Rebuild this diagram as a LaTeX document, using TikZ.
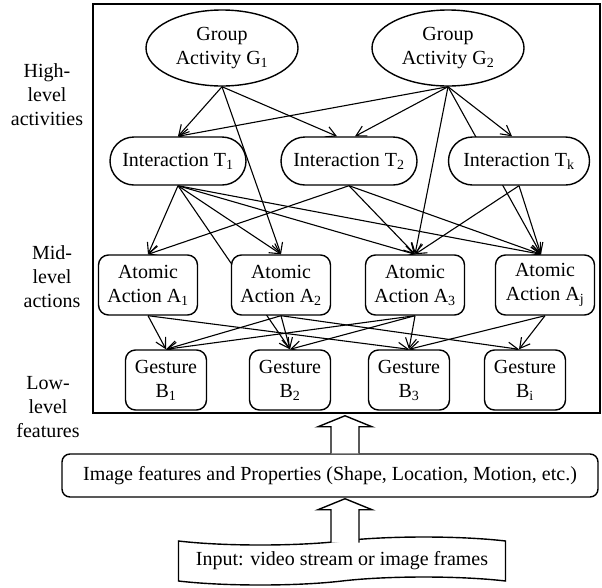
\documentclass[tikz,border=0pt]{standalone}
\usepackage{fontspec}
\setmainfont{Liberation Serif}
\usepackage{tikz}
\usetikzlibrary{arrows.meta, positioning, shapes.geometric, shapes.symbols, calc, backgrounds}

% hollow block arrow from a foot point up to a tip point
\newcommand{\hollowup}[2]{%
  \draw[fat] ($(#1)+(-14,0)$) -- ($(#2)+(-14,11)$) -- ($(#2)+(-27,11)$) -- (#2)
    -- ($(#2)+(27,11)$) -- ($(#2)+(14,11)$) -- ($(#1)+(14,0)$);}

\begin{document}
\begin{tikzpicture}[x=1pt, y=-1pt, font=\fontsize{20}{24}\selectfont,
    grp/.style={draw, ellipse, fill=white, line width=1.4pt, minimum width=152, minimum height=76, inner sep=1pt, align=center},
    inter/.style={draw, rounded corners=24pt, fill=white, line width=1.4pt, minimum width=136, minimum height=48},
    act/.style={draw, rounded corners=10pt, fill=white, line width=1.4pt, minimum width=99, minimum height=60, inner sep=1pt, align=center},
    gest/.style={draw, rounded corners=10pt, fill=white, line width=1.4pt, minimum width=81, minimum height=60, inner sep=1pt, align=center},
    lvl/.style={align=center, inner sep=0pt},
    fat/.style={line width=1.4pt, fill=white},
    arr/.style={-{Straight Barb[length=10pt, width=11pt]}, line width=1.1pt}]
  \useasboundingbox (0,0) rectangle (602,587);

  \node[draw, line width=1.5pt, minimum width=507, minimum height=409, inner sep=0pt] (frame) at (346.5,208.5) {};

  % levels
  \node[lvl] (hi) at (47,95) {High-\\level\\activities};
  \node[lvl] (mid) at (52,277) {Mid-\\level\\actions};
  \node[lvl] (low) at (48,407) {Low-\\level\\features};

  % group activities
  \node[grp] (G1) at (222,48) {Group\\Activity G\textsubscript{1}};
  \node[grp] (G2) at (448,48) {Group\\Activity G\textsubscript{2}};

  % interactions
  \node[inter] (T1) at (178,161) {Interaction T\textsubscript{1}};
  \node[inter] (T2) at (349,161) {Interaction T\textsubscript{2}};
  \node[inter, minimum width=141] (Tk) at (519,161) {Interaction T\textsubscript{k}};

  % atomic actions
  \node[act] (A1) at (148,285) {Atomic\\Action A\textsubscript{1}};
  \node[act] (A2) at (281,285) {Atomic\\Action A\textsubscript{2}};
  \node[act] (A3) at (415,285) {Atomic\\Action A\textsubscript{3}};
  \node[act] (Aj) at (545,285) {Atomic\\Action A\textsubscript{j}};

  % gestures
  \node[gest] (B1) at (166,380) {Gesture\\B\textsubscript{1}};
  \node[gest] (B2) at (290,380) {Gesture\\B\textsubscript{2}};
  \node[gest] (B3) at (409,380) {Gesture\\B\textsubscript{3}};
  \node[gest] (Bi) at (525,380) {Gesture\\B\textsubscript{i}};

  \begin{scope}[on background layer]
    \draw[arr] (G1.south) -- (T1.north); \draw[arr] (G1.south) -- ([xshift=-12]T2.north); \draw[arr] (G1.south) -- (A2.north);
    \draw[arr] (G2.south) -- (T1.north); \draw[arr] (G2.south) -- ([xshift=6]T2.north); \draw[arr] (G2.south) -- ([xshift=-7]Tk.north);
    \draw[arr] (G2.south) -- (A3.north); \draw[arr] (G2.south) -- ([xshift=-4]Aj.north);
    \draw[arr] (T1.south) -- (A1.north); \draw[arr] (T1.south) -- (A2.north); \draw[arr] (T1.south) -- (A3.north);
    \draw[arr] (T1.south) -- ([xshift=-4]Aj.north); \draw[arr] (T1.south) -- (B2.north);
    \draw[arr] (T2.south) -- (A1.north); \draw[arr] (T2.south) -- (A3.north); \draw[arr] (T2.south) -- ([xshift=-4]Aj.north);
    \draw[arr] (Tk.south) -- (A3.north); \draw[arr] (Tk.south) -- ([xshift=-4]Aj.north);
    \draw[arr] (A1.south) -- (B1.north); \draw[arr] (A1.south) -- (B3.north);
    \draw[arr] (A2.south) -- (B1.north); \draw[arr] (A2.south) -- (B2.north); \draw[arr] (A2.south) -- ([xshift=-6]Bi.north);
    \draw[arr] (A3.south) -- (B1.north); \draw[arr] (A3.south) -- (B2.north); \draw[arr] (A3.south) -- (B3.north);
    \draw[arr] (Aj.south) -- (B3.north); \draw[arr] (Aj.south) -- ([xshift=-6]Bi.north);
  \end{scope}

  % inputs
  \node[draw, rounded corners=8pt, line width=1.4pt, minimum width=536, minimum height=43] (feat) at (330,475.5)
    {Image features and Properties (Shape, Location, Motion, etc.)};
  \node[draw, tape, line width=1.4pt, fill=white, minimum width=327, minimum height=48, tape bend height=8pt] (inp) at (342,561)
    {Input: video stream or image frames};

  \coordinate (ax) at (345,0);
  \coordinate (tip1) at ([yshift=-2]frame.south -| ax);
  \coordinate (foot1) at (feat.north -| ax);
  \coordinate (tip2) at ([yshift=-1]feat.south -| ax);
  \coordinate (foot2) at ([yshift=-2]inp.north -| ax);
  \hollowup{foot1}{tip1}
  \hollowup{foot2}{tip2}
\end{tikzpicture}
\end{document}
